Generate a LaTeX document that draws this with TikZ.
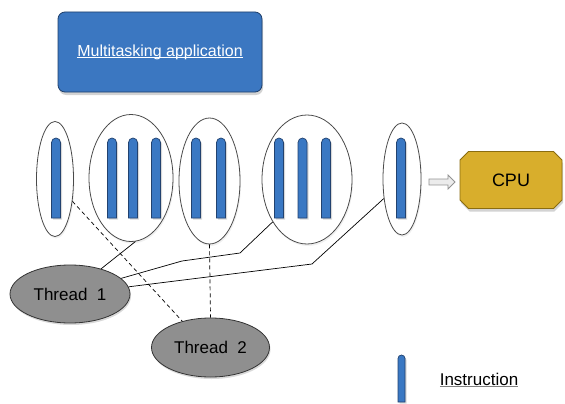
\documentclass[tikz,border=0pt]{standalone}
\usepackage{fontspec}
\setmainfont{Liberation Sans}
\usetikzlibrary{shapes.geometric,shapes.misc,shapes.arrows,shadows}
\definecolor{barblue}{HTML}{3A78C3}
\definecolor{barline}{HTML}{22426F}
\definecolor{appblue}{HTML}{3B77C1}
\definecolor{appline}{HTML}{1F3F6A}
\definecolor{cpugold}{HTML}{D8AE2C}
\definecolor{cpuline}{HTML}{8A6D10}
\definecolor{thrgray}{HTML}{8F8F8F}
\definecolor{ellline}{HTML}{4A4A4A}
\newcommand\myuline[2]{\setbox0\hbox{#2}\rlap{\color{#1}\rule[-1.8pt]{\wd0}{0.9pt}}\box0}
\begin{document}
\begin{tikzpicture}[x=1pt,y=-1pt,
  appbox/.style={draw=appline, fill=appblue, line width=0.8pt, rounded corners=7pt,
    minimum width=204pt, minimum height=80pt, inner sep=0pt, text=white,
    font=\fontsize{16}{19}\selectfont,
    drop shadow={opacity=0.35, shadow xshift=1pt, shadow yshift=-3pt}},
  grp/.style={ellipse, draw=ellline, fill=white, line width=0.8pt, inner sep=0pt,
    drop shadow={opacity=0.12, shadow xshift=1pt, shadow yshift=-2pt}},
  bar/.style={draw=barline, fill=barblue, line width=0.7pt,
    drop shadow={opacity=0.3, shadow xshift=1.5pt, shadow yshift=-1.5pt}},
  thr/.style={ellipse, draw=black!80, fill=thrgray, line width=0.8pt, inner sep=0pt,
    font=\fontsize{17}{20}\selectfont,
    drop shadow={opacity=0.3, shadow xshift=1pt, shadow yshift=-2pt}},
  cpubox/.style={chamfered rectangle, chamfered rectangle xsep=5pt, draw=cpuline,
    fill=cpugold, line width=0.8pt, minimum width=102pt, minimum height=57pt, inner sep=0pt,
    font=\fontsize{18}{20}\selectfont,
    drop shadow={opacity=0.35, shadow xshift=1pt, shadow yshift=-3pt}},
  conn/.style={draw=black, line width=0.7pt},
  dconn/.style={draw=black, line width=0.7pt, dashed, dash pattern=on 4pt off 3pt},
  legtext/.style={font=\fontsize{17}{20}\selectfont}
]
\useasboundingbox (0,0) rectangle (565,404);

% application box
\node[appbox] (app) at (160,52) {\myuline{white}{Multitasking application}};

% instruction groups
\node[grp, minimum width=37pt, minimum height=115pt] (e1) at (55,179) {};
\node[grp, minimum width=84pt, minimum height=127pt] (e2) at (131,178) {};
\node[grp, minimum width=61pt, minimum height=126pt] (e3) at (209.5,181) {};
\node[grp, minimum width=90pt, minimum height=129pt] (e4) at (307,179.5) {};
\node[grp, minimum width=38pt, minimum height=112pt] (e5) at (402,179) {};

% instructions
\foreach \x in {56,112,133,156,196,221,279,302.5,326,401}{
  \draw[bar] (\x-4.5,218) -- (\x-4.5,142.5) arc[start angle=180, end angle=0, radius=4.5pt] -- (\x+4.5,218) -- cycle;
}

% CPU and arrow
\node[cpubox] (cpu) at (511,180) {CPU};
\node[single arrow, draw=gray!85, fill=gray!15, line width=0.8pt, minimum height=26pt,
  minimum width=14pt, single arrow head extend=4pt, inner sep=2.5pt] (arr) at (440.5,182) {};

% threads
\node[thr, minimum width=120pt, minimum height=58pt] (t1) at (70,294) {Thread\ \ 1};
\node[thr, minimum width=118pt, minimum height=59pt] (t2) at (210.5,347.5) {Thread\ \ 2};

% connectors
\coordinate (k1) at (182,261);
\coordinate (k2) at (240,253);
\coordinate (k3) at (312,264);
\draw[conn] (e2.-86) -- (t1.39);
\draw[conn] (t1.17) -- (k1) -- (k2) -- (e4.231);
\draw[conn] (t1.7) -- (k3) -- (e5.227);
\draw[dconn] (e1.-52) -- (t2.137);
\draw[dconn] (e3.south) -- (t2.north);

% legend
\draw[bar] (398,402) -- (398,358.5) arc[start angle=180, end angle=0, radius=3.5pt] -- (405,402) -- cycle;
\node[legtext] (leg) at (479,380) {\myuline{gray}{Instruction}};
\end{tikzpicture}
\end{document}
